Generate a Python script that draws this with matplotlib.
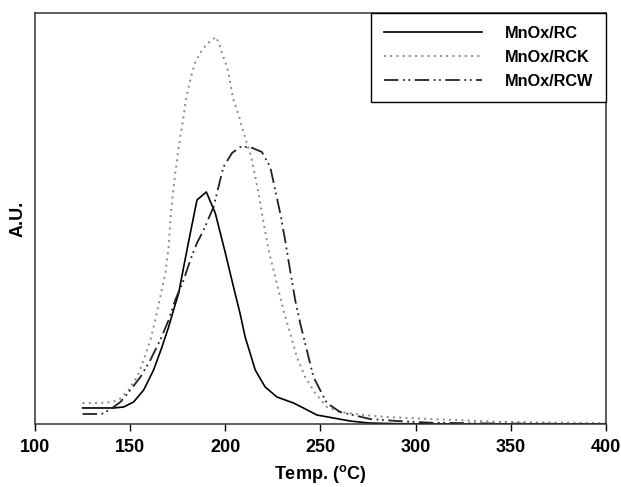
import matplotlib
matplotlib.use("Agg")
import matplotlib.pyplot as plt

plt.rcParams['font.family'] = ['Liberation Sans', 'DejaVu Sans']
plt.rcParams['font.weight'] = 'bold'
plt.rcParams['mathtext.fontset'] = 'custom'
plt.rcParams['mathtext.rm'] = 'Liberation Sans:bold'
plt.rcParams['mathtext.it'] = 'Liberation Sans:bold'

# Data
rc_x = [125, 134.4, 141.3, 146.6, 151.8, 157.1, 162.3, 166.7, 170.2, 172.8, 175.5, 178.1,
        181.6, 183.3, 185.1, 190, 194.7, 200, 204.3, 207.8, 210.4, 213, 215.7, 220.9,
        227.1, 235.8, 241, 248.1, 256.8, 265.5, 275, 290, 320, 360, 400]
rc_y = [16, 16, 16, 17, 22, 34, 54, 77, 97, 114, 131, 157,
        191, 207, 224, 232, 211, 171, 137, 110, 87, 71, 54, 37,
        27, 21, 16, 9, 6, 3, 1, 0.3, 0, 0, 0]

rck_x = [125, 134.4, 139.6, 144, 149.2, 153.6, 157.1, 160.6, 163.2, 165.8, 168.5, 170.2,
         171.4, 172.5, 173.7, 175.1, 176.3, 177.8, 179, 180.7, 182.5, 184.2, 186.8, 189.5,
         192.1, 195.2, 197, 198.2, 200.5, 201.7, 202.9, 204.3, 206.1, 207.8, 209.6, 211.3,
         213.6, 215.3, 217.4, 219.2, 220.8, 222.7, 225.3, 227.9, 230.5, 234, 237.6, 241.9,
         247.2, 253.3, 260.3, 272.5, 285, 307.5, 342.5, 370, 400]
rck_y = [21, 21, 22, 24, 34, 47, 64, 84, 104, 127, 151, 177,
         211, 231, 251, 271, 287, 304, 321, 337, 351, 362, 371, 378,
         383, 387, 379, 371, 359, 351, 337, 324, 314, 304, 291, 281,
         267, 251, 231, 211, 194, 174, 154, 134, 114, 91, 67, 47,
         31, 17, 12, 9, 7, 5, 2.3, 1.5, 1]

rcw_x = [125, 130, 135, 138, 141.3, 144.9, 150.1, 155.4, 160.6, 165.8, 170.2, 173.7,
         178.1, 181.6, 185.1, 188.6, 193.8, 197.3, 199, 203.5, 207.8, 213, 219.2, 223.6,
         226.2, 228.8, 231.4, 234, 236.7, 239.3, 242.8, 246.3, 253.3, 260.3, 276, 290,
         307.5, 340, 400]
rcw_y = [10, 10, 10, 13, 17, 22, 34, 47, 64, 84, 104, 124,
         144, 164, 181, 194, 217, 244, 257, 271, 277, 277, 272, 257,
         234, 211, 184, 154, 124, 101, 74, 47, 21, 12, 5, 3,
         1.3, 0.5, 0]

labels = ['MnOx/RC', 'MnOx/RCK', 'MnOx/RCW']
x_ticks = [100, 150, 200, 250, 300, 350, 400]

fig = plt.figure(figsize=(6.21, 4.87), dpi=100)
ax = fig.add_axes([0.0564, 0.1294, 0.9194, 0.8439])

ax.plot(rc_x, rc_y, color='black', lw=1.2, label=labels[0])
ax.plot(rck_x, rck_y, color='#8a8a8a', lw=1.4, linestyle=(0, (1, 2.2)), label=labels[1])
ax.plot(rcw_x, rcw_y, color='#222222', lw=1.3, linestyle=(0, (8, 2.5, 1, 2, 1, 2.5)), label=labels[2])

ax.set_xlim(100, 400)
ax.set_ylim(0, 411)
ax.set_xticks(x_ticks)
ax.set_xticklabels([str(t) for t in x_ticks])
ax.set_yticks([])
ax.tick_params(axis='x', direction='out', length=5, width=1, labelsize=13, pad=6)
for lab in ax.get_xticklabels():
    lab.set_fontweight('bold')
for s in ax.spines.values():
    s.set_linewidth(1.1)
    s.set_color('#333333')

ax.set_xlabel(r'Temp. ($\mathrm{^o}$C)', fontsize=13, fontweight='bold', labelpad=5)
ax.set_ylabel('A.U.', fontsize=13, fontweight='bold', labelpad=6)

leg = ax.legend(loc='upper right', bbox_to_anchor=(1.0, 1.0), borderaxespad=0,
                fancybox=False, edgecolor='black', framealpha=1,
                handlelength=6.0, handletextpad=1.4, labelspacing=0.55,
                borderpad=0.8, prop={'size': 11.7, 'weight': 'bold'})
leg.get_frame().set_linewidth(1.0)

fig.savefig('out.png', dpi=100)
